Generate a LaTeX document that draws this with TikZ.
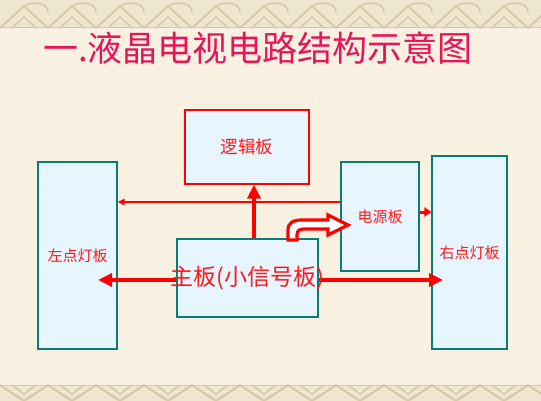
\documentclass[tikz,border=0pt]{standalone}
\usepackage{fontspec}
\setmainfont{Noto Sans CJK SC}
\newfontfamily\cjk{Noto Sans CJK SC}
\usetikzlibrary{arrows.meta,calc}
\definecolor{bgcream}{HTML}{F8F1E2}
\definecolor{bandbg}{HTML}{EFE6D0}
\definecolor{bandfg}{HTML}{D6C9A6}
\definecolor{boxfill}{HTML}{E6F5FF}
\definecolor{boxline}{HTML}{0A7C74}
\definecolor{titlecol}{HTML}{E8145A}
\definecolor{lblred}{HTML}{FF1A1A}
\definecolor{arrred}{HTML}{FF0000}
\tikzset{
  board/.style={draw=boxline, fill=boxfill, line width=1.2pt, inner sep=0pt, anchor=center},
  lbl/.style={text=lblred, font=\cjk\fontsize{15}{15}\selectfont},
  thickarrow/.style={draw=arrred, line width=4pt, -{Triangle[length=14pt,width=13pt]}},
  thinarrow/.style={draw=arrred, line width=1.8pt, -{Triangle[length=7pt,width=6pt]}},
}
\begin{document}
\begin{tikzpicture}[x=1pt,y=-1pt]
\useasboundingbox (0,0) rectangle (541,401);
\fill[bgcream] (0,0) rectangle (541,401);
% decorative bands
\fill[bandbg] (0,0) rectangle (541,28);
\fill[bandbg] (0,385) rectangle (541,401);
\foreach \i in {0,...,11} {
  \draw[bandfg, line width=2pt] ({\i*48},28) -- ({\i*48+24},6) -- ({\i*48+48},28);
  \draw[bandfg, line width=1.5pt] ({\i*48+12},28) -- ({\i*48+24},17) -- ({\i*48+36},28);
  \draw[bandfg, line width=1.5pt] ({\i*48+24},6) .. controls ({\i*48+36},0) and ({\i*48+48},4) .. ({\i*48+48},12);
  \draw[bandfg, line width=2pt] ({\i*48},385) -- ({\i*48+24},401) -- ({\i*48+48},385);
  \draw[bandfg, line width=1.5pt] ({\i*48+12},385) -- ({\i*48+24},394) -- ({\i*48+36},385);
}
\draw[bandfg, line width=1pt] (0,28) -- (541,28);
\draw[bandfg, line width=1pt] (0,385) -- (541,385);

% title
\node[text=titlecol, font=\cjk\fontsize{35}{35}\selectfont, inner sep=0pt] (title) at (258,48) {一.液晶电视电路结构示意图};

% boards
\node[board, minimum width=79pt, minimum height=187pt] (left) at (77.5,255.5) {};
\node[board, draw=red, minimum width=124pt, minimum height=74pt] (logic) at (247,147) {};
\node[board, minimum width=141pt, minimum height=78pt] (main) at (247.5,278) {};
\node[board, minimum width=78pt, minimum height=109pt] (power) at (380,216.5) {};
\node[board, minimum width=75pt, minimum height=193pt] (right) at (469.5,252.5) {};

% connectors
\coordinate (yThin) at (0,202);
\coordinate (yShort) at (0,212);
\coordinate (xUp) at (254,0);
\coordinate (tipL) at (98,280);
\coordinate (tipR) at (443,280);

\draw[thinarrow] (power.west |- yThin) -- (left.east |- yThin);
\draw[draw=arrred, line width=3pt, -{Triangle[length=7pt,width=9pt]}] (power.east |- yShort) -- (right.west |- yShort);
\draw[thickarrow] (main.north -| xUp) -- (logic.south -| xUp);
\draw[thickarrow] (main.west |- tipL) -- (tipL);
\draw[thickarrow] (main.east |- tipR) -- (tipR);

% curved block arrow to power board
\filldraw[draw=arrred, fill=white, line width=3.2pt, line join=miter]
  (288,240) -- (288,230) .. controls (288,223) and (293,220) .. (302,220)
  -- (328,220) -- (328,215) -- (348,225) -- (328,235) -- (328,229)
  -- (304,229) .. controls (299,229) and (297,231) .. (297,235) -- (297,240) -- cycle;

% labels
\node[lbl] at (left.center) {左点灯板};
\node[lbl] at (right.center) {右点灯板};
\node[lbl] at (power.center) {电源板};
\node[text=lblred, font=\cjk\fontsize{17.5}{17.5}\selectfont] at (logic.center) {逻辑板};
\node[text=lblred, font=\cjk\fontsize{23}{23}\selectfont, inner sep=0pt] at (main.center) {主板(小信号板)};
\end{tikzpicture}
\end{document}
